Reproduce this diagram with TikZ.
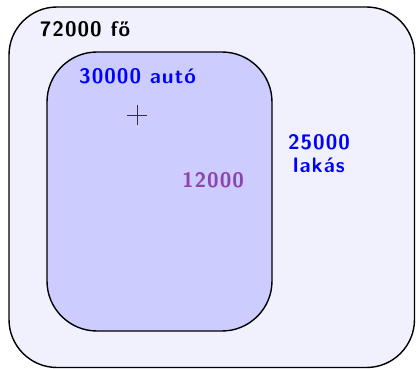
\documentclass[tikz,border=0pt]{standalone}
\usepackage{fontspec}
\setsansfont{Latin Modern Sans}[LetterSpace=5]
\definecolor{outerfill}{RGB}{241,241,254}
\definecolor{innerfill}{RGB}{204,204,255}
\definecolor{purpletxt}{RGB}{142,68,173}
\begin{document}
\begin{tikzpicture}[x=1pt,y=-1pt,
  region/.style={draw=black,line width=1.4pt},
  lbl/.style={font=\sffamily\bfseries\fontsize{21}{24}\selectfont,inner sep=0pt,anchor=base,align=center}]
\useasboundingbox (0,0) rectangle (416,369);
\draw[region,fill=outerfill,rounded corners=48pt] (9,7) rectangle (414.5,367.5);
\draw[region,fill=innerfill,rounded corners=50pt] (47,52) rectangle (272,331);
\node[lbl,text=black] (fo) at (85,37) {72000 fő};
\node[lbl,text=blue] (auto) at (137.5,84) {30000 autó};
\node[lbl,text=purpletxt] (mid) at (213,188) {12000};
\node[lbl,text=blue] (lak1) at (319,150) {25000};
\node[lbl,text=blue] (lak2) at (319,173) {lakás};
\coordinate (cross) at (137,115);
\draw[line width=0.7pt,black!80] ([xshift=-10pt]cross) -- ([xshift=10pt]cross);
\draw[line width=0.7pt,black!80] ([yshift=-10pt]cross) -- ([yshift=10pt]cross);
\end{tikzpicture}
\end{document}
